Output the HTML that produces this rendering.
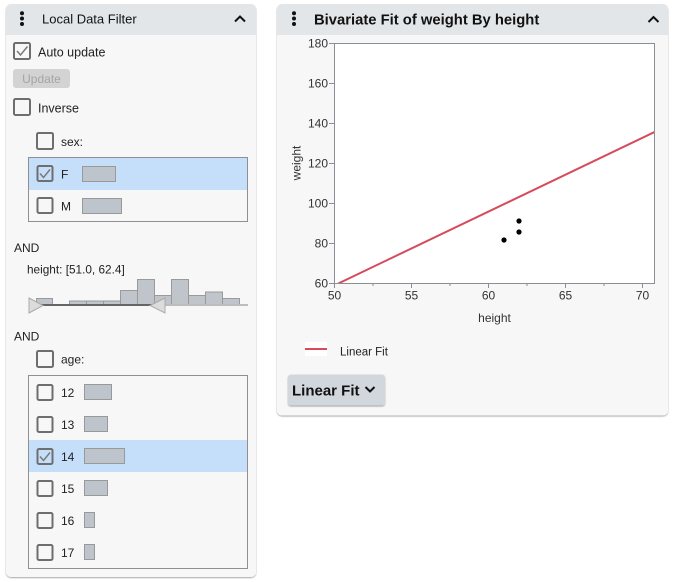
<!DOCTYPE html>
<html><head><meta charset="utf-8"><style>
html,body{margin:0;padding:0;background:#fff;}
svg{display:block;}
text{font-family:"Liberation Sans",sans-serif;}
</style></head><body>
<svg width="674" height="582" viewBox="0 0 674 582" xmlns="http://www.w3.org/2000/svg">
<defs>
<filter id="sh" x="-5%" y="-5%" width="110%" height="110%"><feDropShadow dx="0" dy="1" stdDeviation="0.8" flood-color="#000" flood-opacity="0.35"/></filter>
<clipPath id="pc"><rect x="334" y="43" width="320" height="240"/></clipPath>
</defs>
<rect width="674" height="582" fill="#fff"/>

<!-- LEFT PANEL -->
<rect x="6" y="4" width="250" height="573" rx="5" fill="#f7f7f7" filter="url(#sh)"/>
<path d="M6,35 V9 a5,5 0 0 1 5,-5 H251 a5,5 0 0 1 5,5 V35 Z" fill="#e3e6e9"/>
<circle cx="22" cy="13.3" r="2" fill="#111"/><circle cx="22" cy="18.5" r="2" fill="#111"/><circle cx="22" cy="24" r="2" fill="#111"/>
<text x="42" y="23.5" font-size="13" fill="#111">Local Data Filter</text>
<polyline points="235,21.5 240,16.5 245,21.5" fill="none" stroke="#111" stroke-width="2"/>

<!-- Auto update -->
<rect x="14" y="43" width="16" height="16" rx="1.5" fill="none" stroke="#6e6e6e" stroke-width="2"/>
<polyline points="17,51 20.5,55 27.5,46.5" fill="none" stroke="#7a7a7a" stroke-width="1.5"/>
<text x="38" y="56.5" font-size="12.5" fill="#222">Auto update</text>
<rect x="13" y="69" width="57" height="19" rx="3" fill="#d3d3d3"/>
<text x="41.5" y="83" font-size="12" fill="#a5a5a5" text-anchor="middle">Update</text>
<rect x="14" y="99" width="16" height="16" rx="1.5" fill="none" stroke="#6e6e6e" stroke-width="2"/>
<text x="38" y="112.5" font-size="12.5" fill="#222">Inverse</text>

<!-- sex -->
<rect x="37" y="133" width="16" height="16" rx="1.5" fill="none" stroke="#6e6e6e" stroke-width="2"/>
<text x="61" y="146" font-size="12" fill="#222">sex:</text>
<rect x="28.5" y="157.5" width="219" height="64" fill="#f7f7f7" stroke="#8f8f8f" stroke-width="1"/>
<rect x="29" y="158" width="218" height="32" fill="#c5defa"/>
<rect x="37.5" y="166" width="15" height="15" rx="1.5" fill="none" stroke="#6e6e6e" stroke-width="2"/>
<polyline points="40,173.5 43.5,177.5 50,169.5" fill="none" stroke="#7a7a7a" stroke-width="1.5"/>
<text x="61" y="178.5" font-size="12" fill="#222">F</text>
<rect x="82.5" y="166.5" width="33" height="15" fill="#bdc4cb" stroke="#999" stroke-width="1"/>
<rect x="37.5" y="198" width="15" height="15" rx="1.5" fill="none" stroke="#6e6e6e" stroke-width="2"/>
<text x="61" y="210.5" font-size="12" fill="#222">M</text>
<rect x="82.5" y="198.5" width="39" height="15" fill="#bdc4cb" stroke="#999" stroke-width="1"/>

<!-- height filter -->
<text x="14" y="252" font-size="12" fill="#222">AND</text>
<text x="27" y="273.5" font-size="11.8" fill="#222">height: [51.0, 62.4]</text>
<g fill="#bfc5cb" stroke="#9a9a9a" stroke-width="1">
<rect x="36.5" y="298.5" width="16" height="6"/>
<rect x="69.5" y="301" width="17" height="3.5"/>
<rect x="86.5" y="301" width="17" height="3.5"/>
<rect x="103.5" y="301" width="17" height="3.5"/>
<rect x="120.5" y="290.5" width="17" height="14"/>
<rect x="137.5" y="279.5" width="17" height="25"/>
<rect x="154.5" y="295.5" width="17" height="9"/>
<rect x="171.5" y="279.5" width="17" height="25"/>
<rect x="188.5" y="295.5" width="17" height="9"/>
<rect x="205.5" y="292" width="17" height="12.5"/>
<rect x="222.5" y="298.5" width="17" height="6"/>
</g>
<line x1="155" y1="305" x2="248" y2="305" stroke="#bdbdbd" stroke-width="2"/>
<line x1="36" y1="305" x2="155" y2="305" stroke="#666" stroke-width="2"/>
<polygon points="29,298 43,305.5 29,313" fill="#dcdcdc" stroke="#aaa" stroke-width="1"/>
<polygon points="165,298 150,305.5 165,313" fill="#dcdcdc" stroke="#aaa" stroke-width="1"/>

<text x="14" y="340.5" font-size="12" fill="#222">AND</text>

<!-- age -->
<rect x="37" y="351" width="16" height="16" rx="1.5" fill="none" stroke="#6e6e6e" stroke-width="2"/>
<text x="61" y="363.5" font-size="12" fill="#222">age:</text>
<rect x="28.5" y="375.5" width="219" height="193" fill="#f7f7f7" stroke="#8f8f8f" stroke-width="1"/>
<rect x="29" y="440" width="218" height="32" fill="#c5defa"/>
<g fill="none" stroke="#6e6e6e" stroke-width="2">
<rect x="37.5" y="385" width="15" height="15" rx="1.5"/>
<rect x="37.5" y="417" width="15" height="15" rx="1.5"/>
<rect x="37.5" y="449" width="15" height="15" rx="1.5"/>
<rect x="37.5" y="481" width="15" height="15" rx="1.5"/>
<rect x="37.5" y="513" width="15" height="15" rx="1.5"/>
<rect x="37.5" y="545" width="15" height="15" rx="1.5"/>
</g>
<polyline points="40,456.5 43.5,460.5 50,452.5" fill="none" stroke="#7a7a7a" stroke-width="1.5"/>
<g font-size="12" fill="#222">
<text x="61" y="397">12</text>
<text x="61" y="429">13</text>
<text x="61" y="461">14</text>
<text x="61" y="493">15</text>
<text x="61" y="525">16</text>
<text x="61" y="557">17</text>
</g>
<g fill="#bdc4cb" stroke="#999" stroke-width="1">
<rect x="84.5" y="384.5" width="27" height="15"/>
<rect x="84.5" y="416.5" width="23" height="15"/>
<rect x="84.5" y="448.5" width="40" height="15"/>
<rect x="84.5" y="480.5" width="23" height="15"/>
<rect x="84.5" y="512.5" width="10" height="15"/>
<rect x="84.5" y="544.5" width="10" height="15"/>
</g>

<!-- RIGHT PANEL -->
<rect x="277" y="4" width="391" height="411.5" rx="5" fill="#f7f7f7" filter="url(#sh)"/>
<path d="M277,35 V9 a5,5 0 0 1 5,-5 H663 a5,5 0 0 1 5,5 V35 Z" fill="#e3e6e9"/>
<circle cx="294" cy="13.3" r="2" fill="#111"/><circle cx="294" cy="18.5" r="2" fill="#111"/><circle cx="294" cy="24" r="2" fill="#111"/>
<text x="314" y="24.3" font-size="14.8" font-weight="bold" fill="#111">Bivariate Fit of weight By height</text>
<polyline points="648.5,22 653.5,17 658.5,22" fill="none" stroke="#111" stroke-width="2"/>

<!-- plot -->
<rect x="334.5" y="43.5" width="320" height="240" fill="#fff" stroke="#8a8f96" stroke-width="1"/>
<g stroke="#8a8f96" stroke-width="1">
<line x1="329" y1="43.5" x2="334" y2="43.5"/>
<line x1="329" y1="83.5" x2="334" y2="83.5"/>
<line x1="329" y1="123.5" x2="334" y2="123.5"/>
<line x1="329" y1="163.5" x2="334" y2="163.5"/>
<line x1="329" y1="203.5" x2="334" y2="203.5"/>
<line x1="329" y1="243.5" x2="334" y2="243.5"/>
<line x1="329" y1="283.5" x2="334" y2="283.5"/>
<line x1="334.5" y1="284" x2="334.5" y2="288"/>
<line x1="373" y1="284" x2="373" y2="286"/>
<line x1="411.5" y1="284" x2="411.5" y2="288"/>
<line x1="450" y1="284" x2="450" y2="286"/>
<line x1="488.5" y1="284" x2="488.5" y2="288"/>
<line x1="527" y1="284" x2="527" y2="286"/>
<line x1="565.5" y1="284" x2="565.5" y2="288"/>
<line x1="604" y1="284" x2="604" y2="286"/>
<line x1="642.5" y1="284" x2="642.5" y2="288"/>
</g>
<g font-size="12" fill="#333" text-anchor="end">
<text x="328" y="47.5">180</text>
<text x="328" y="87.5">160</text>
<text x="328" y="127.5">140</text>
<text x="328" y="167.5">120</text>
<text x="328" y="207.5">100</text>
<text x="328" y="247.5">80</text>
<text x="328" y="287.5">60</text>
</g>
<g font-size="12" fill="#333" text-anchor="middle">
<text x="334.5" y="299.5">50</text>
<text x="411.5" y="299.5">55</text>
<text x="488.5" y="299.5">60</text>
<text x="565.5" y="299.5">65</text>
<text x="642.5" y="299.5">70</text>
<text x="494.5" y="322">height</text>
</g>
<text x="0" y="0" font-size="12" fill="#333" text-anchor="middle" transform="translate(300.5,163) rotate(-90)">weight</text>
<g clip-path="url(#pc)">
<line x1="338.3" y1="283.5" x2="655" y2="131.8" stroke="#d64b5b" stroke-width="2"/>
</g>
<circle cx="504" cy="240" r="2.6" fill="#000"/>
<circle cx="519" cy="221" r="2.6" fill="#000"/>
<circle cx="519" cy="232" r="2.6" fill="#000"/>

<!-- legend -->
<rect x="305" y="342" width="22" height="14" fill="#fff"/>
<line x1="305" y1="349" x2="327" y2="349" stroke="#d64b5b" stroke-width="2"/>
<text x="340" y="355.5" font-size="11.5" fill="#222">Linear Fit</text>

<!-- button -->
<rect x="288" y="374.5" width="97" height="31" rx="3" fill="#d1d7dc" filter="url(#sh)"/>
<text x="292" y="395.5" font-size="15" font-weight="bold" fill="#111">Linear Fit</text>
<polyline points="365.5,387 370,391.5 374.5,387" fill="none" stroke="#111" stroke-width="2"/>
</svg>
</body></html>
